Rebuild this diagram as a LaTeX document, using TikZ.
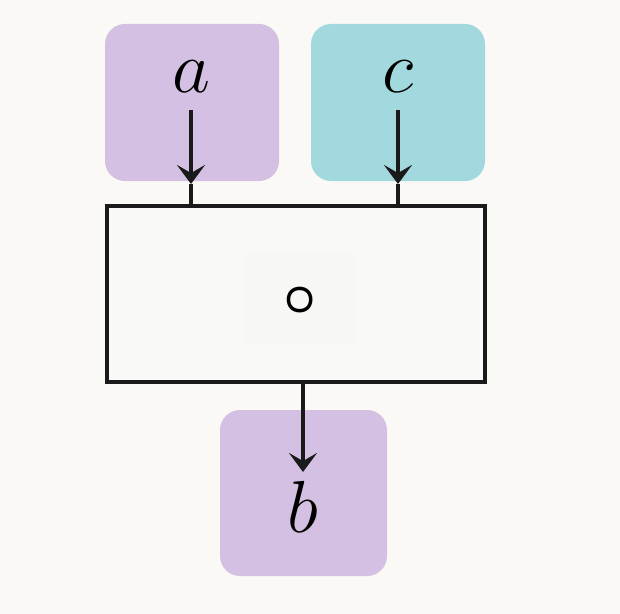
\documentclass[tikz,border=0pt]{standalone}
\usepackage{fix-cm}
\usetikzlibrary{arrows.meta}
\definecolor{bg}{HTML}{FBF9F6}
\definecolor{lilac}{HTML}{D3C0E2}
\definecolor{aqua}{HTML}{A2D9DF}
\definecolor{boxfill}{HTML}{F9F9F7}
\definecolor{innerfill}{HTML}{F7F7F6}
\definecolor{ink}{HTML}{1A1A1A}
\tikzset{
  varbox/.style={rectangle, rounded corners=20bp, inner sep=0pt},
  lbl/.style={inner sep=0pt, font=\fontsize{74}{74}\selectfont},
  conn/.style={draw=ink, line width=3.5bp},
  tipped/.style={conn, -{Stealth[length=19bp,width=28bp,inset=8bp]}},
}
\begin{document}
\begin{tikzpicture}[x=1bp,y=-1bp]
\fill[bg] (0,0) rectangle (620,614);
\useasboundingbox (0,0) rectangle (620,614);
% variable boxes
\node[varbox, fill=lilac, minimum width=174bp, minimum height=157bp] (A) at (192,102.5) {};
\node[varbox, fill=aqua, minimum width=174bp, minimum height=157bp] (C) at (398,102.5) {};
\node[varbox, fill=lilac, minimum width=167bp, minimum height=166bp] (B) at (303.5,493) {};
% operation box
\node[rectangle, draw=ink, line width=3.5bp, fill=boxfill, minimum width=378bp, minimum height=176bp, inner sep=0pt] (op) at (296,294) {};
\node[rectangle, fill=innerfill, minimum width=110bp, minimum height=90bp, inner sep=0pt] (inner) at (300,298) {};
\node[inner sep=0pt, font=\fontsize{58}{58}\selectfont\boldmath] (circ) at (300,301) {$\circ$};
% labels
\node[lbl] (la) at (191,77) {$a$};
\node[lbl] (lc) at (398,77) {$c$};
\node[lbl] (lb) at (303,507) {$b$};
% connector points
\coordinate (sa) at (191,110);
\coordinate (ta) at (191,184);
\coordinate (sc) at (398,110);
\coordinate (tc) at (398,184);
\coordinate (tb) at (303,472);
% connectors
\draw[tipped] (sa) -- (ta);
\draw[conn] (ta) -- (ta |- op.north);
\draw[tipped] (sc) -- (tc);
\draw[conn] (tc) -- (tc |- op.north);
\draw[tipped] (tb |- op.south) -- (tb);
\end{tikzpicture}
\end{document}
